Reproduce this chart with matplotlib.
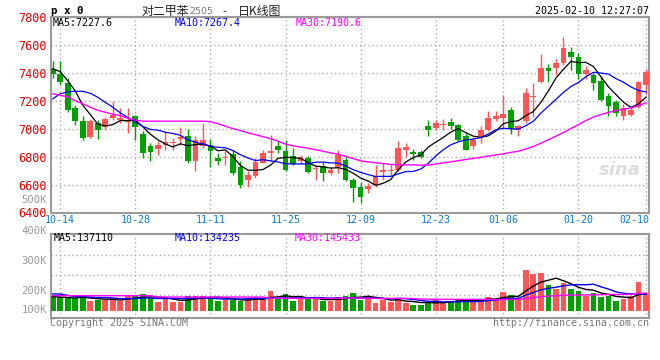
import numpy as np
import pandas as pd
import matplotlib
matplotlib.use("Agg")
import matplotlib.pyplot as plt
import matplotlib.transforms as mtransforms

# ---------------- data ----------------
dates = [
    "10-11",
    "10-14", "10-15", "10-16", "10-17", "10-18",
    "10-21", "10-22", "10-23", "10-24", "10-25",
    "10-28", "10-29", "10-30", "10-31", "11-01",
    "11-04", "11-05", "11-06", "11-07", "11-08",
    "11-11", "11-12", "11-13", "11-14", "11-15",
    "11-18", "11-19", "11-20", "11-21", "11-22",
    "11-25", "11-26", "11-27", "11-28", "11-29",
    "12-02", "12-03", "12-04", "12-05", "12-06",
    "12-09", "12-10", "12-11", "12-12", "12-13",
    "12-16", "12-17", "12-18", "12-19", "12-20",
    "12-23", "12-24", "12-25", "12-26", "12-27",
    "12-30", "12-31", "01-02", "01-03",
    "01-06", "01-07", "01-08", "01-09", "01-10",
    "01-13", "01-14", "01-15", "01-16", "01-17",
    "01-20", "01-21", "01-22", "01-23", "01-24",
    "01-27", "02-05", "02-06", "02-07", "02-10",
]

opens = [7429, 7393, 7325, 7148, 7057, 6943, 7041, 7009, 7079, 7060,
         7048, 7088, 6962, 6874, 6855, 6881, 6900, 6924, 6945, 6766,
         6874, 6886, 6791, 6790, 6820, 6726, 6631, 6664, 6755, 6826,
         6874, 6838, 6807, 6766, 6791, 6709, 6736, 6684, 6726, 6774,
         6631, 6583, 6569, 6600, 6688, 6700, 6707, 6850, 6830, 6831,
         7016, 7005, 7030, 7048, 7029, 6950, 6879, 6941, 6988, 7069,
         7076, 7136, 6993, 7052, 7228, 7338, 7433, 7433, 7469, 7552,
         7517, 7393, 7386, 7345, 7236, 7188, 7093, 7100, 7155, 7314]
highs = [7486, 7486, 7361, 7171, 7088, 7068, 7064, 7086, 7200, 7150,
         7148, 7095, 6981, 6898, 6909, 6986, 6934, 7009, 7000, 6945,
         7041, 6929, 6826, 6843, 6845, 6771, 6695, 6791, 6845, 6957,
         6909, 6921, 6860, 6810, 6802, 6743, 6759, 6729, 6845, 6802,
         6648, 6616, 6610, 6743, 6755, 6750, 6909, 6900, 6855, 6850,
         7064, 7064, 7069, 7076, 7032, 6969, 6941, 7021, 7124, 7124,
         7243, 7155, 7029, 7290, 7326, 7536, 7462, 7498, 7655, 7588,
         7541, 7450, 7402, 7374, 7259, 7207, 7179, 7164, 7345, 7426]
lows = [7364, 7314, 7121, 7029, 6921, 6936, 6929, 6993, 7064, 7040,
        6969, 6921, 6791, 6766, 6814, 6850, 6850, 6886, 6755, 6700,
        6862, 6724, 6743, 6743, 6671, 6576, 6583, 6650, 6755, 6766,
        6829, 6695, 6740, 6745, 6684, 6636, 6624, 6670, 6684, 6624,
        6474, 6469, 6540, 6586, 6636, 6670, 6695, 6800, 6779, 6790,
        6945, 6990, 6993, 7000, 6915, 6845, 6855, 6898, 6985, 7052,
        7005, 6964, 6950, 7041, 7084, 7326, 7331, 7386, 7457, 7421,
        7355, 7355, 7274, 7195, 7088, 7088, 7064, 7093, 7148, 7250]
closes = [7389, 7334, 7131, 7052, 6934, 7057, 6988, 7068, 7100, 7080,
          7055, 7009, 6826, 6834, 6881, 6902, 6905, 6938, 6766, 6921,
          6921, 6838, 6766, 6795, 6684, 6600, 6671, 6759, 6826, 6838,
          6845, 6707, 6750, 6798, 6691, 6714, 6684, 6702, 6814, 6631,
          6576, 6512, 6593, 6659, 6707, 6707, 6862, 6870, 6822, 6798,
          6988, 7041, 7036, 7016, 6921, 6845, 6917, 6988, 7076, 7088,
          7107, 6998, 7016, 7259, 7234, 7433, 7410, 7474, 7576, 7517,
          7391, 7417, 7326, 7207, 7160, 7112, 7148, 7136, 7331, 7405]
volumes = [121500, 111000, 111000, 103000, 116000, 81000, 89000, 89000, 103000, 81000,
           121500, 121500, 138000, 108000, 75000, 95000, 75000, 75000, 121500, 121500,
           121500, 111000, 83000, 89000, 89000, 83000, 95000, 116000, 95000, 162000,
           103000, 138000, 81000, 103000, 103000, 95000, 81000, 81000, 116000, 124000,
           148000, 89000, 121500, 67000, 89000, 75000, 103000, 67000, 49000, 49000,
           75000, 89000, 75000, 75000, 89000, 97000, 89000, 89000, 116000, 95000,
           156000, 130000, 95000, 332000, 300000, 310000, 211000, 176000, 229000, 181000,
           164000, 122000, 148000, 116000, 122000, 83000, 95000, 122000, 237000, 148000]

# moving-average values before enough bars exist
ma5_head = [7429, 7409, 7343, 7271]
ma10_head = [7214, 7250, 7264, 7268, 7268, 7254, 7225, 7189, 7154]
ma30_head = [7250, 7239, 7229, 7200, 7179, 7154, 7132, 7118, 7104, 7093,
             7075, 7061, 7054, 7054, 7054, 7054, 7054, 7054, 7054, 7054,
             7054, 7050, 7036, 7018, 7000, 6986, 6971, 6957, 6943]
vma5_head = [117000, 113000, 109000, 105000]
vma10_head = [138000, 138000, 126000, 117000, 117000, 113000, 109000, 109000, 105000]
vma30_head = [124000] * 14 + [113000] * 15

price_ticks = [6400, 6600, 6800, 7000, 7200, 7400, 7600, 7800]
date_ticks = ["10-14", "10-28", "11-11", "11-25", "12-09", "12-23", "01-06", "01-20", "02-10"]
vol_labels = ["500K", "400K", "300K", "200K", "100K"]

title_name = "对二甲苯"
title_code = "2505"
title_kind = "日K线图"
stamp = "2025-02-10 12:27:07"
price_legend = ["MA5:7227.6", "MA10:7267.4", "MA30:7190.6"]
vol_legend = ["MA5:137110", "MA10:134235", "MA30:145433"]

# ---------------- helpers ----------------
def with_head(series, n, head):
    m = pd.Series(series, dtype=float).rolling(n).mean().to_numpy()
    m[:n - 1] = head
    return m

W, H = 660, 360
def rect(l, t, r, b):
    return [l / W, 1 - b / H, (r - l) / W, (b - t) / H]

UP = "#ff5555"
DN = "#00a000"
GRID = "#aaaaaa"
FRAME = "#9a9a9a"
MONO = "DejaVu Sans Mono"

o = np.array(opens, float); h = np.array(highs, float)
l = np.array(lows, float); c = np.array(closes, float)
v = np.array(volumes, float)
n = len(c)
x = np.arange(n)
up = c >= o
cols = np.where(up, UP, DN)

ma5 = with_head(c, 5, ma5_head)
ma10 = with_head(c, 10, ma10_head)
ma30 = with_head(c, 30, ma30_head)
vma5 = with_head(v, 5, vma5_head)
vma10 = with_head(v, 10, vma10_head)
vma30 = with_head(v, 30, vma30_head)

fig = plt.figure(figsize=(6.6, 3.6), dpi=100)
fig.patch.set_facecolor("white")

ax = fig.add_axes(rect(50.7, 17, 649.3, 212.5))
axv = fig.add_axes(rect(50.7, 234, 649.3, 318))

xlim = (-0.27, n - 1 + 0.44)
tick_pos = [dates.index(d) for d in date_ticks]

# ---- price panel ----
ax.set_xlim(*xlim)
ax.set_ylim(price_ticks[0], price_ticks[-1])
ax.vlines(x, l, h, colors=cols, lw=1.0, zorder=3)
body = np.maximum(np.abs(c - o), 7)
ax.bar(x, body, bottom=np.minimum(o, c), width=0.76, color=cols, lw=0, zorder=4)
ax.plot(x, ma5, color="black", lw=0.9, zorder=5)
ax.plot(x, ma10, color="#0000ee", lw=0.9, zorder=5)
ax.plot(x, ma30, color="#ff00ff", lw=1.0, zorder=5)

ax.set_yticks(price_ticks)
ax.set_yticklabels([str(t) for t in price_ticks], color="#e00000",
                   fontfamily=MONO, fontsize=8.5)
ax.set_xticks(tick_pos)
ax.set_xticklabels([])
ax.tick_params(length=0, pad=3)
ax.grid(True, linestyle=(0, (1, 2)), color=GRID, lw=1.0, zorder=0)
for s in ax.spines.values():
    s.set_color(FRAME); s.set_linewidth(1.5)

# date labels
bt = mtransforms.blended_transform_factory(ax.transData, fig.transFigure)
for d, p in zip(date_ticks, tick_pos):
    if p == n - 1:
        fig.text(649 / W, 1 - 220 / H, d, ha="right", va="center", color="#0a7ad8",
                 fontfamily=MONO, fontsize=7.2)
    else:
        ax.text(p, 1 - 220 / H, d, transform=bt, ha="center", va="center",
                color="#0a7ad8", fontfamily=MONO, fontsize=7.2, clip_on=False)

# price legend
for txt, col, px in zip(price_legend, ["black", "#0000ee", "#ff00ff"], [53, 175, 296]):
    fig.text(px / W, 1 - 23.5 / H, txt, ha="left", va="center", color=col,
             fontfamily=MONO, fontsize=7.2)

# watermark
fig.text(620 / W, 1 - 170 / H, "sina", ha="center", va="center", color="#d8d8d8",
         fontsize=13, fontstyle="italic", fontweight="bold", alpha=0.9)

# ---- volume panel ----
axv.set_xlim(*xlim)
axv.set_ylim(-56700, 623700)
axv.bar(x, v, width=0.76, color=cols, lw=0, zorder=3)
axv.plot(x, vma5, color="black", lw=1.0, zorder=5)
axv.plot(x, vma10, color="#0000ee", lw=1.0, zorder=5)
axv.plot(x, vma30, color="#ff00ff", lw=1.0, zorder=5)
axv.set_yticks([])
axv.set_xticks(tick_pos)
axv.set_xticklabels([])
axv.tick_params(length=0)
axv.grid(True, axis="x", linestyle=(0, (1, 2)), color=GRID, lw=1.0, zorder=0)
y0, y1 = axv.get_ylim()
for py in [255, 275, 295]:
    frac = (318 - py) / (318 - 234)
    axv.axhline(y0 + frac * (y1 - y0), linestyle=(0, (1, 2)), color=GRID, lw=1.0, zorder=0)
for s in axv.spines.values():
    s.set_color(FRAME); s.set_linewidth(1.5)

for txt, col, px in zip(vol_legend, ["black", "#0000ee", "#ff00ff"], [54, 175, 295]):
    fig.text(px / W, 1 - 238 / H, txt, ha="left", va="center", color=col,
             fontfamily=MONO, fontsize=7.2)

for txt, py in zip(vol_labels, [200, 231, 261, 291, 310]):
    fig.text(47 / W, 1 - py / H, txt, ha="right", va="center", color="#9a9a9a",
             fontfamily=MONO, fontsize=7.6)

# ---- header / footer ----
fig.text(51 / W, 1 - 11 / H, "p x 0", ha="left", va="center", color="black",
         fontfamily=MONO, fontweight="bold", fontsize=7.8)
fig.text(141 / W, 1 - 11 / H, title_name, ha="left", va="center", color="#222222",
         fontfamily=["Noto Sans CJK SC", "DejaVu Sans"], fontsize=8.6)
fig.text(189 / W, 1 - 12 / H, title_code, ha="left", va="center", color="#777777",
         fontfamily="DejaVu Sans", fontsize=6.8)
fig.text(222 / W, 1 - 11 / H, "-", ha="left", va="center", color="#222222",
         fontfamily="DejaVu Sans", fontsize=8)
fig.text(238 / W, 1 - 11 / H, title_kind, ha="left", va="center", color="#222222",
         fontfamily=["Noto Sans CJK SC", "DejaVu Sans"], fontsize=8.6)
fig.text(649 / W, 1 - 11 / H, stamp, ha="right", va="center", color="black",
         fontfamily=MONO, fontsize=7.2)

fig.text(50 / W, 1 - 323 / H, "Copyright 2025 SINA.COM", ha="left", va="center",
         color="#777777", fontfamily=MONO, fontsize=7.2)
fig.text(649 / W, 1 - 323 / H, "http://finance.sina.com.cn", ha="right", va="center",
         color="#777777", fontfamily=MONO, fontsize=7.2)

fig.savefig("out.png", dpi=100, facecolor="white")
